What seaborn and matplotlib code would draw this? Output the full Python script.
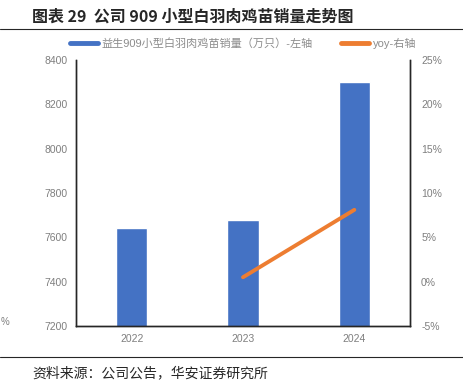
import seaborn as sns
import matplotlib.pyplot as plt
import pandas as pd

years = ["2022", "2023", "2024"]
sales = [7642, 7678, 8301]
yoy_years = ["2023", "2024"]
yoy = [0.5, 8.1]

left_ticks = [7200, 7400, 7600, 7800, 8000, 8200, 8400]
right_ticks = [-5, 0, 5, 10, 15, 20, 25]

bar_label = "益生909小型白羽肉鸡苗销量（万只）-左轴"
line_label = "yoy-右轴"


def plot_chart():
    sns.set_theme(style="white")
    plt.rcParams["font.family"] = ["Liberation Sans", "Noto Sans CJK SC", "DejaVu Sans"]

    df = pd.DataFrame({"year": years, "sales": sales})
    df_yoy = pd.DataFrame({"x": [years.index(y) for y in yoy_years], "yoy": yoy})

    fig = plt.figure(figsize=(4.63, 3.9), dpi=100)
    ax = fig.add_axes([76 / 463, 1 - 326 / 390, (410 - 76) / 463, (326 - 60) / 390])

    sns.barplot(data=df, x="year", y="sales", color="#4472C4", width=0.28,
                saturation=1, ax=ax)
    ax.set_ylim(7200, 8400)
    ax.set_yticks(left_ticks)
    ax.set_xlabel(None)
    ax.set_ylabel(None)
    ax.tick_params(axis="both", length=0, labelsize=7.5, colors="#7f7f7f", pad=6)

    ax2 = ax.twinx()
    sns.lineplot(data=df_yoy, x="x", y="yoy", color="#ED7D31", linewidth=2.8,
                 ax=ax2, legend=False)
    ax2.set_ylim(-5, 25)
    ax2.set_yticks(right_ticks)
    ax2.set_yticklabels([f"{t}%" for t in right_ticks])
    ax2.set_ylabel(None)
    ax2.tick_params(axis="y", length=0, labelsize=7.5, colors="#7f7f7f", pad=8)
    ax.set_xlim(-0.5, 2.5)

    for a in (ax, ax2):
        a.spines["top"].set_visible(False)
        for s in ("left", "right", "bottom"):
            a.spines[s].set_color("#262626")
            a.spines[s].set_linewidth(1.0)

    handles = [plt.Line2D([], [], color="#4472C4", linewidth=3.5),
               plt.Line2D([], [], color="#ED7D31", linewidth=3.5)]
    fig.legend(handles, [bar_label, line_label], loc="center",
               bbox_to_anchor=(0.525, 1 - 43 / 390),
               ncol=2, frameon=False, fontsize=8, handlelength=2.5, columnspacing=2.6,
               handletextpad=0.3, labelcolor="#8c8c8c")

    fig.text(32 / 463, 1 - 17 / 390, "图表 29  公司 909 小型白羽肉鸡苗销量走势图",
             fontsize=11.5, fontweight="bold", va="center", ha="left",
             family=["Noto Sans CJK SC", "DejaVu Sans"])
    fig.add_artist(plt.Line2D([0, 1], [1 - 29 / 390, 1 - 29 / 390], color="#262626", linewidth=0.8))
    fig.add_artist(plt.Line2D([0, 1], [1 - 357 / 390, 1 - 357 / 390], color="#262626", linewidth=0.8))
    fig.text(32 / 463, 1 - 373 / 390, "资料来源：公司公告，华安证券研究所",
             fontsize=10, va="center", ha="left", family=["Noto Sans CJK SC", "DejaVu Sans"])
    fig.text(0.002, 1 - 322 / 390, "%", fontsize=7, color="#7f7f7f", va="center", ha="left")

    fig.savefig("out.png", dpi=100)


if __name__ == '__main__':
    plot_chart()
